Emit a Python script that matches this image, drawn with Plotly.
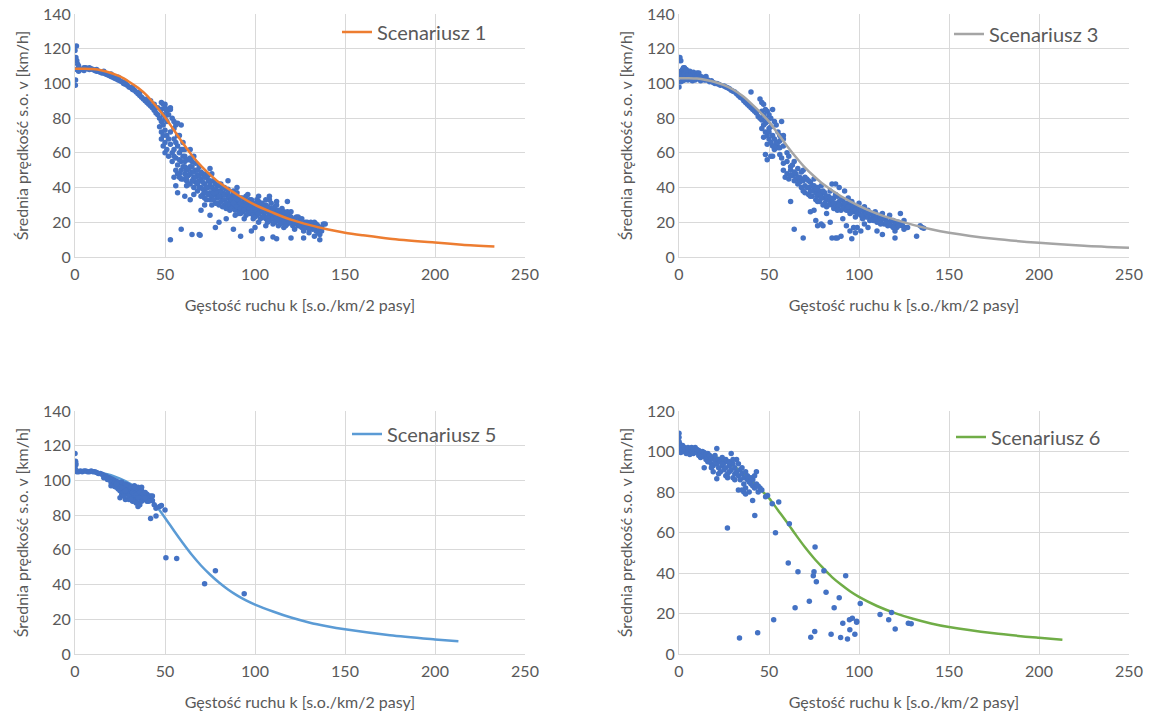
import plotly.graph_objects as go
from plotly.subplots import make_subplots

# ---- Scenariusz 1 ----
k1 = [0, 0.8, 0.5, 1, 1.5, 0.3, 0.2, 1, 2, 3, 2,
      4, 5, 6, 7, 8, 9, 10, 11, 12, 13, 14, 15, 16, 17, 18, 19, 20, 21, 22, 23, 24, 25,
      26, 27, 28, 29, 30, 31, 32, 33, 34, 35, 36, 37, 38, 39, 40, 41, 42, 43, 44, 45, 46,
      47, 48, 49,
      5, 8, 12, 16, 20, 24, 28, 32, 36, 40, 42, 44, 46, 48, 50, 50, 51, 52, 53, 54, 49, 50, 51,
      47, 48, 48, 49, 49, 50, 50, 50, 51, 51, 52, 52, 53, 53, 54, 54, 55, 55, 55, 56, 56, 56,
      57, 57, 58, 58, 58, 59, 59, 60, 60, 60, 61, 61, 62, 62, 63, 63, 64, 64, 65, 65, 66, 66,
      67, 67, 68, 68, 69, 69, 70, 70, 71, 71, 72, 72, 73, 73, 74, 74, 75, 75, 76, 76, 77, 77,
      78, 78, 79, 79, 80, 80, 81, 81, 82, 82, 83, 83, 84, 84, 85, 85, 86, 86, 87, 87, 88, 88,
      89, 89, 90, 90, 91, 91, 92, 92, 93, 93, 94, 94, 95, 95, 96, 96, 97, 97, 98, 98, 99, 99,
      100, 100, 101, 101, 102, 102, 103, 103, 104, 104, 105, 105, 106, 106, 107, 107, 108, 108,
      109, 109, 110, 110, 111, 111, 112, 112, 113, 113, 114, 114, 115, 115, 116, 116, 117, 117,
      118, 118, 119, 120, 120, 121, 122, 122, 123, 124, 124, 125, 126, 126, 127, 128, 129, 130,
      130, 131, 132, 133, 134, 135, 136, 137, 138, 139,
      53, 59, 65, 69, 69.5, 62, 56, 55, 58, 64, 70, 75, 78, 88, 92, 98, 100, 104, 110, 112, 120,
      127, 133, 136, 106, 84, 80, 72, 61, 57,
      48, 49, 51, 53, 55, 57, 59, 61, 66, 64, 75, 73, 85, 90, 96, 102, 108, 112, 118,
      55, 56, 57, 57, 58, 59, 59, 60, 60, 61, 61, 62, 62, 63, 63, 64, 64, 65, 65, 66, 66, 67,
      67, 68, 68, 69, 69, 70, 70, 71, 71, 72, 72, 73, 73, 74, 74, 75, 75, 76, 76, 77, 77, 78,
      78, 79, 79, 80, 80, 81, 81, 82, 82, 83, 83, 84, 84, 85, 85, 86, 86, 87, 87, 88, 88, 89,
      89, 90, 90, 91, 91, 92, 92, 93, 93, 94, 94, 95, 95, 96, 96, 97, 97, 98, 98, 99, 99, 100,
      100, 101, 101, 102, 102, 103, 103, 104, 104, 105, 105, 106, 106, 107, 107, 108, 108, 109,
      109, 110, 110, 111, 111, 112, 112, 113, 113, 114, 114, 115, 115, 116, 116, 117, 117, 118,
      118, 119, 119, 120, 121, 122, 123, 124, 125, 126, 127, 128, 129, 130, 131, 132, 133, 134,
      135, 136, 137]
v1 = [119, 121.5, 115, 113, 111, 102, 99, 108, 107, 108, 110,
      108, 109, 109, 108.5, 108, 108.5, 108, 107.5, 107, 107, 106.5, 106, 106, 105.5, 105, 104.5,
      104, 103.5, 103, 102.5, 102, 101.5, 101, 100, 99.5, 99, 98, 97.5, 96.5, 96, 95, 94, 93, 92,
      91, 90, 89, 88, 87, 86, 84.5, 83, 82, 80, 78, 76,
      107.5, 109, 108, 107, 105.5, 103.5, 101, 98, 95, 91, 90, 88, 86, 85, 88, 86, 84, 82, 85, 80,
      82, 80, 78,
      75, 72, 68, 70, 64, 66, 60, 73, 70, 62, 68, 58, 65, 72, 60, 55, 62, 68, 74, 57, 50, 76,
      64, 53, 60, 48, 70, 55, 45, 58, 52, 62, 48, 55, 50, 44, 56, 47, 52, 42, 49, 55, 46, 40,
      50, 43, 47, 38, 44, 52, 45, 40, 48, 36, 42, 38, 46, 33, 40, 44, 37, 42, 35, 48, 39, 44,
      36, 31, 41, 34, 38, 30, 35, 42, 33, 37, 30, 40, 36, 28, 34, 39, 32, 27, 35, 30, 33, 38,
      29, 24, 32, 35, 30, 27, 34, 25, 31, 28, 33, 22, 29, 35, 27, 31, 30, 25, 28, 33, 26, 22,
      30, 27, 24, 33, 28, 20, 26, 31, 23, 29, 27, 25, 22, 30, 26, 20, 24, 33,
      22, 28, 25, 19, 23, 27, 21, 30, 24, 18, 22, 26, 20, 28, 23, 17, 21, 25,
      19, 24, 22, 20, 26, 18, 22, 16, 20, 18, 23, 21, 17, 19, 15, 20, 17, 19,
      14, 18, 16, 20, 15, 18, 13, 17, 19, 19,
      10, 16, 13, 13, 12.5, 41, 41, 46, 46, 33, 27, 24, 17, 16, 12, 15, 17, 10.5, 11.5, 10.5, 11,
      11, 12, 10, 18, 22, 20, 30, 35, 37,
      89, 88, 85, 86, 78, 77, 76, 62, 58, 62, 51, 48, 44, 40, 36, 35, 35, 32, 32,
      58, 66, 48, 70, 56, 62, 50, 45, 66, 52, 58, 46, 56, 51, 42, 48, 57, 44, 52, 49, 36, 46,
      54, 42, 50, 40, 47, 49, 35, 43, 39, 46, 34, 40, 37, 36, 47, 44, 33, 40, 30, 37, 33, 42,
      39, 31, 37, 35, 41, 32, 38, 40, 29, 36, 33, 31, 39, 37, 29, 35, 30, 33, 28, 31, 36, 34,
      27, 29, 37, 33, 25, 31, 28, 26, 34, 30, 27, 32, 24, 29, 25, 33, 28, 26, 30, 31, 24, 28,
      23, 30, 26, 25, 32, 29, 22, 27, 31, 23, 29, 26, 33, 29, 23, 27, 21, 25,
      31, 27, 22, 29, 20, 25, 23, 27, 21, 24, 19, 25, 22, 26, 20, 23, 18, 22,
      26, 20, 24, 23, 21, 19, 23, 20, 18, 22, 19, 17, 20, 16, 20, 18, 17, 19,
      14, 16, 15]
ck1 = [0, 5, 10, 15, 20, 25, 30, 35, 40, 45, 50, 55, 60, 65, 70, 75, 80, 90, 100, 110, 120,
       130, 140, 150, 160, 175, 200, 215, 233]
cv1 = [108.5, 108.5, 108.3, 107.5, 106, 104, 101, 97.5, 93, 87, 80.5, 73, 65.5, 58.5, 52.5,
       47.5, 43, 36, 30, 25.5, 21.5, 18.5, 16, 14, 12.5, 10.5, 8.3, 7.1, 6]

# ---- Scenariusz 3 ----
k3 = [0.5, 1, 0,
      1, 1, 1, 2, 2, 2, 2, 3, 3, 3, 3, 4, 4, 4, 5, 5, 5, 6, 6, 6, 7, 7, 8, 8, 9, 9, 10, 10,
      11, 11, 12, 12, 13, 14, 1.5, 2.5, 3.5, 4.5, 6.5, 7.5,
      15, 17, 20, 22, 25, 28, 30, 32, 34, 36, 38, 40, 42, 44, 46, 48, 50,
      40, 45, 46, 47, 48, 49, 50, 51, 52, 53, 54, 55, 56, 57, 58, 58, 47, 48, 49, 50, 51, 52,
      53, 54, 55, 56, 57, 58, 46, 47, 49, 51, 53, 48, 49, 52, 54, 56,
      58, 59, 60, 60, 61, 62, 62, 63, 64, 64, 65, 66, 66, 67, 68, 68, 69, 69, 70, 70, 71, 72,
      72, 73, 73, 74, 74, 75, 75, 76, 76, 77, 77, 78, 78, 79, 79, 80, 80, 81, 82, 82, 83, 84,
      84, 85, 85, 86, 86, 87, 87, 88, 88, 89, 89, 90, 90, 91, 92, 92, 93, 94, 94, 95, 95, 96,
      96, 97, 98, 98, 99, 100, 100, 101, 102, 102, 103, 104, 105, 106, 107, 108, 109, 110, 110,
      111, 112, 113, 114, 115, 116, 117, 118, 119, 120, 121, 122, 123, 124, 125, 126, 134, 135,
      136,
      62, 64, 69, 73, 75, 76, 77, 79, 80, 82, 84, 85, 87, 88, 90, 91, 93, 95, 96, 98, 99, 101,
      103, 105, 110, 112, 113, 116, 120, 120, 132, 125, 127, 108, 97,
      1, 2, 3, 4, 5, 6, 7, 8, 9, 10, 11, 12, 13, 15, 16, 18, 19, 21, 23, 26, 27, 29, 31, 33,
      35, 37, 39, 41, 43, 45, 47, 49, 51, 46, 48, 50, 52, 53, 55, 56, 58, 60, 61, 62, 63, 64,
      65, 66, 67, 68, 69, 70, 71, 72, 73, 74, 75, 76, 77, 78, 79, 80, 81, 82, 83, 84, 85, 86,
      87, 88, 89, 90, 91, 92, 93, 94, 95, 96, 97, 98, 99, 100, 101, 102, 103, 104, 105, 106,
      107, 108, 109, 111, 112, 114, 115, 117, 118, 119, 121, 122, 124]
v3 = [115, 113, 98,
      104, 107, 101, 103, 106, 108, 101.5, 104, 107, 102, 109, 103, 106, 108, 104, 107, 102,
      105, 103, 107, 104, 106, 103, 105.5, 104, 102, 103.5, 106, 102.5, 104, 103, 101.5, 102.5,
      102, 105, 109, 105, 104.5, 106, 101.5,
      102, 101, 100, 99.5, 98.5, 97, 95.5, 94, 92, 90, 88, 86, 84, 81, 79, 77, 74,
      95, 91, 89, 88, 85, 84, 82, 80, 85, 78, 76, 72, 70, 78, 68, 70, 76, 72, 70, 68, 66, 64,
      62, 65, 63, 59, 57, 54, 74, 69, 65, 58, 64, 59, 56, 58, 66, 63,
      50, 46, 55, 48, 45, 50, 52, 47, 44, 55, 48, 42, 51, 46, 40, 45, 44, 50, 41, 37, 45, 40,
      36, 43, 38, 41, 35, 39, 45, 37, 33, 40, 35, 38, 32, 36, 41, 34, 30, 37, 33, 29, 35, 32,
      38, 30, 42, 34, 28, 31, 42, 35, 29, 32, 40, 30, 27, 33, 29, 38, 31, 27, 34, 30, 25, 28,
      32, 26, 29, 23, 27, 25, 31, 24, 28, 22, 26, 23, 27, 21, 25, 23, 26, 22, 20,
      24, 21, 25, 19, 22, 20, 24, 18, 21, 19, 17, 20, 25, 18, 21, 17, 18, 17,
      16.5,
      32, 16, 11, 26, 27, 21, 18, 19, 18, 25, 20, 11, 11, 11, 12, 22, 18, 15, 10.5, 14, 17, 15,
      19, 17, 15, 19, 13, 18, 15, 11, 12, 16, 17, 21, 17,
      105, 104.5, 105.5, 107, 105, 104.5, 102, 106.5, 105, 104.5, 106, 104, 103.5, 104, 102,
      101.5, 100.5, 100, 99, 98, 97.5, 96, 95, 93, 91.5, 89, 87, 85, 83, 80, 82, 78, 75, 84,
      80, 72, 70, 68, 66, 67, 64, 60, 58, 47, 53, 49, 45, 46, 43, 49, 38, 46, 40, 44, 35, 38,
      41, 39, 32, 36, 34, 38, 31, 35, 30, 34, 33, 31, 36, 27, 30, 33, 28, 31, 27, 29, 32, 26,
      30, 27, 25, 28, 27, 24, 29, 25, 23, 25, 22, 24, 22, 21, 23, 22, 20, 19, 21, 17, 20, 18,
      19]
ck3 = [0, 5, 10, 15, 20, 25, 30, 35, 40, 45, 50, 55, 60, 65, 70, 75, 80, 90, 100, 110, 120,
       130, 140, 150, 175, 200, 225, 250]
cv3 = [103, 103, 102.8, 102, 100.8, 99, 96.5, 93, 88.5, 83.5, 78, 71, 64, 57.5, 51.5, 46.5,
       42, 35, 29.5, 25, 21.5, 18.5, 16, 14, 10.5, 8.2, 6.5, 5.3]

# ---- Scenariusz 5 ----
k5 = [0, 0.3, 0.5, 0.4, 0, 0.5, 1, 2, 3, 4, 5, 6, 7, 8, 9, 10, 11, 12, 13, 14, 15, 16, 17,
      18, 19, 20, 21, 22, 23, 24, 25, 26, 27, 28, 29, 30, 31, 32, 33, 34, 35, 36, 37, 38, 39,
      40, 41, 42, 43,
      16, 18, 20, 21, 22, 23, 24, 25, 26, 27, 28, 29, 30, 30, 31, 32, 32, 33, 33, 34, 34, 35,
      35, 36, 36, 37, 37, 38, 38, 39, 40, 40, 41, 42, 25, 26, 28, 30, 33, 35, 31, 29,
      20, 22, 23, 24, 25, 26, 27, 28, 29, 30, 31, 32, 33, 34, 35, 36, 37, 38, 39, 40, 41, 32,
      34, 36, 27, 31, 35, 37, 39, 33,
      43, 44, 45, 47, 48, 50, 42, 45, 50.5, 56.5, 72, 78, 94]
v5 = [115.5, 111, 109, 110, 107, 106, 105, 105, 105.5, 105, 105.5, 105.5, 105, 105, 105.5,
      105, 105, 104.5, 104, 104, 103.5, 103, 102.5, 102, 101.5, 101, 100.5, 100, 99.5, 99,
      98.5, 98, 97, 96.5, 96, 95.5, 95, 94.5, 94, 93.5, 93, 92.5, 92, 91.5, 91, 90.5, 90, 89,
      88.5,
      101.5, 100.5, 99, 97.5, 98.5, 96, 97, 96, 99, 95, 98, 94, 97, 93, 92, 96, 90, 91, 97, 95,
      89, 92, 87, 95, 90, 88, 94, 90, 93, 89, 92, 88, 91, 91, 90, 92, 89, 89, 88, 85, 91, 92,
      97, 96.5, 98, 95, 94, 95.5, 93, 94, 97.5, 91, 96, 93, 92.5, 91.5, 96, 93, 91, 92, 93, 89,
      88, 88, 87, 86, 91, 89, 90, 96, 90, 96,
      91, 86, 84, 85, 85.5, 83, 78, 79.5, 55.5, 55, 40.5, 48, 34.7]
ck5 = [0, 5, 10, 15, 20, 25, 30, 35, 40, 45, 50, 55, 60, 65, 70, 75, 80, 85, 90, 95, 100,
       110, 120, 130, 140, 150, 175, 200, 213]
cv5 = [105.5, 105.4, 105, 104.2, 103, 101, 98.5, 95.2, 91, 85.5, 78.5, 71, 63.8, 57, 51,
       45.8, 41.2, 37.2, 33.8, 30.9, 28.5, 24.5, 21, 18.2, 16, 14.2, 10.8, 8.4, 7.3]

# ---- Scenariusz 6 ----
k6 = [0, 0, 0, 0, 0, 0.3, 0.5, 1, 1, 2, 2, 3, 3, 4, 4, 5, 5, 6, 6, 7, 7, 8, 8, 9, 9, 10, 10,
      11, 11, 12, 12, 13, 13, 14, 14, 15, 15, 16, 16, 17, 17, 18, 18, 19, 19, 20, 20, 21, 21,
      22, 22, 23, 23, 24, 24, 25, 25, 26, 26, 27, 27, 28, 28, 29, 29, 30, 30, 31, 31, 32, 32,
      33, 33, 34, 34, 35, 35, 36, 36, 37, 37, 38, 38, 39, 39, 40, 40, 41, 41, 42, 42, 43, 43,
      44, 44, 45, 46, 19, 21, 33, 24, 26, 28, 30, 16, 14, 18, 22, 31, 35, 36, 37, 27,
      55.4, 51.8, 49.2, 48.1, 61.3, 53.6, 26.9, 40.9, 42.1, 60.7, 66.1, 75, 74.6, 80.5, 76.3,
      75.6, 92.6, 81.7, 89, 72.4, 86.2, 64.5, 100.7, 52.6, 33.6, 43.7, 73.2, 75.4, 84.5, 89.8,
      93.6, 97.7, 91, 94.7, 96.3, 98.7, 98.7, 94.9, 111.7, 116.5, 118.1, 120.1, 127.4, 129]
v6 = [101, 103, 105, 107, 109, 104, 100, 102, 99.5, 101, 103, 100, 102, 101, 99, 102, 100,
      101, 98.5, 100.5, 102, 99, 101, 100, 102, 99.5, 101, 98, 100.5, 99, 97, 100, 98, 97.5,
      99.5, 96, 98.5, 97, 99, 95, 98, 96.5, 94, 97, 93, 95.5, 98, 94, 101.5, 96, 92, 95, 90,
      93, 97, 91, 94.5, 92, 88, 95, 89, 93, 90, 99, 91, 94, 87, 92, 89, 90, 96, 88, 94, 91, 86,
      89, 92, 87, 84, 90, 82, 86, 88, 85, 80, 87, 84, 83, 86, 88, 82, 90, 84, 83, 80, 82, 81,
      90, 86.5, 81, 94, 96, 95, 96, 95, 92, 92, 89, 86, 81, 80, 79, 87,
      75.1, 74.2, 78.3, 77.6, 64.3, 59.9, 62.2, 75.8, 68.4, 45, 40.6, 40.6, 38.6, 41.1, 35.7,
      52.9, 38.6, 30.5, 27.8, 26, 22.9, 22.8, 24.9, 16.9, 7.9, 10.5, 8.3, 11.1, 9.7, 8.2, 7.4,
      9.7, 15.2, 16.9, 17.7, 16.2, 15.7, 12, 19.5, 16.9, 20.5, 12.4, 15.2, 14.9]
ck6 = [0, 5, 10, 15, 20, 25, 30, 35, 40, 45, 50, 55, 60, 65, 70, 75, 80, 85, 90, 95, 100,
       110, 120, 130, 140, 150, 175, 200, 213]
cv6 = [101, 100.7, 100, 99, 97.5, 95.5, 93, 89.8, 86, 81.5, 77, 71, 65, 58.7, 52.7, 47.3,
       42.5, 38, 34.3, 31, 28.2, 23.7, 20.2, 17.4, 15.1, 13.3, 10.2, 8, 7]

panels = [
    (k1, v1, ck1, cv1, 'Scenariusz 1', '#ED7D31', 140, True),
    (k3, v3, ck3, cv3, 'Scenariusz 3', '#A5A5A5', 140, True),
    (k5, v5, ck5, cv5, 'Scenariusz 5', '#5B9BD5', 140, False),
    (k6, v6, ck6, cv6, 'Scenariusz 6', '#70AD47', 120, False),
]

FONT = 'Lato'
TXT = '#595959'
GRID = '#D9D9D9'

fig = make_subplots(rows=2, cols=2)

legend_names = ['legend', 'legend2', 'legend3', 'legend4']
for i, (kx, vy, ckx, cvy, name, col, ymax, line_on_top) in enumerate(panels):
    r, c = i // 2 + 1, i % 2 + 1
    pts = go.Scatter(x=kx, y=vy, mode='markers', showlegend=False,
                     marker=dict(size=5.5, color='#4472C4'))
    crv = go.Scatter(x=ckx, y=cvy, mode='lines', name=name, legend=legend_names[i],
                     line=dict(color=col, width=2.5, shape='spline', smoothing=0.8))
    if line_on_top:
        fig.add_trace(pts, row=r, col=c)
        fig.add_trace(crv, row=r, col=c)
    else:
        fig.add_trace(crv, row=r, col=c)
        fig.add_trace(pts, row=r, col=c)
    fig.update_yaxes(range=[0, ymax], dtick=20, row=r, col=c)

# plot areas in window pixels (page body margin removed below)
xdom = [[75 / 1150, 525 / 1150], [679 / 1150, 1129 / 1150]]
ydom = [[1 - 257 / 718, 1 - 14 / 718], [1 - 654 / 718, 1 - 411 / 718]]
for i in range(4):
    r, c = i // 2 + 1, i % 2 + 1
    fig.update_xaxes(domain=xdom[c - 1], range=[0, 250], dtick=50, row=r, col=c,
                     title=dict(text='Gęstość ruchu k [s.o./km/2 pasy]', standoff=17,
                                font=dict(size=16, color=TXT)))
    fig.update_yaxes(domain=ydom[r - 1], row=r, col=c,
                     title=dict(text='Średnia prędkość s.o. v [km/h]', standoff=10,
                                font=dict(size=16, color=TXT)))

fig.update_xaxes(showgrid=True, gridcolor=GRID, gridwidth=1, zeroline=False,
                 showline=True, linecolor=GRID, linewidth=1, mirror=False,
                 ticks='', tickfont=dict(size=16, color=TXT), automargin=False,
                 ticklabelstandoff=3, ticklabeloverflow='allow')
fig.update_yaxes(showgrid=True, gridcolor=GRID, gridwidth=1, zeroline=False,
                 showline=True, linecolor=GRID, linewidth=1,
                 ticks='', tickfont=dict(size=16, color=TXT), automargin=False,
                 ticklabeloverflow='allow')

# legend line start / centre (window pixels)
leg_pos = [(343, 32), (955, 34), (353, 434), (957, 437)]
leg = {}
for i, (px, py) in enumerate(leg_pos):
    leg[legend_names[i]] = dict(x=(px - 6) / 1150, y=1 - py / 718,
                                xanchor='left', yanchor='middle',
                                bgcolor='rgba(0,0,0,0)', font=dict(size=20, color=TXT),
                                itemwidth=30)

fig.update_layout(width=1150, height=718, margin=dict(l=0, r=0, t=0, b=0),
                  plot_bgcolor='white', paper_bgcolor='white',
                  font=dict(family=FONT, color=TXT), **leg)

fig.write_html("out.html", config={'displayModeBar': False},
               post_script="document.body.style.margin='0';")
